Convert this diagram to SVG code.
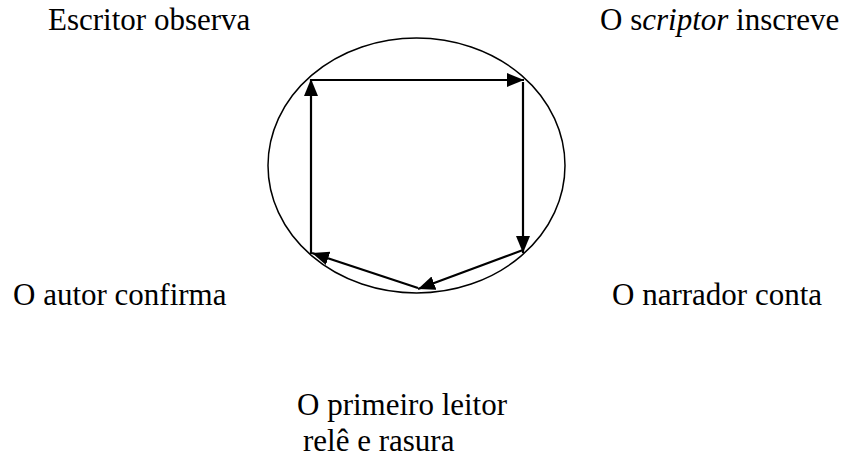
<svg xmlns="http://www.w3.org/2000/svg" width="841" height="457" viewBox="0 0 841 457">
<style>
text{font-family:'Liberation Serif','Times New Roman','DejaVu Serif',serif;font-size:31px;fill:#000}
.c{stroke:#000;stroke-width:2.2;fill:none;marker-end:url(#ah)}
</style>
<defs>
<marker id="ah" markerUnits="userSpaceOnUse" markerWidth="20" markerHeight="16" refX="17" refY="7" orient="auto">
<path d="M0,0 L17,7 L0,14 Z" fill="#000"/>
</marker>
</defs>
<rect width="841" height="457" fill="#fff"/>
<g id="ciclo">
<ellipse cx="416.5" cy="165.5" rx="148.5" ry="127.5" fill="none" stroke="#000" stroke-width="1.5"/>
</g>
<g id="connectors">
<line class="c" x1="310" y1="80" x2="524" y2="80"/>
<line class="c" x1="523" y1="82" x2="523" y2="253"/>
<line class="c" x1="523" y1="250" x2="418" y2="289"/>
<line class="c" x1="418" y1="288" x2="312" y2="253"/>
<line class="c" x1="311" y1="254" x2="311" y2="79"/>
</g>
<g id="escritor"><text x="48" y="30">Escritor observa</text></g>
<g id="scriptor"><text x="600" y="30">O s<tspan font-style="italic">criptor</tspan> inscreve</text></g>
<g id="narrador"><text x="612" y="305">O narrador conta</text></g>
<g id="leitor"><text x="297" y="415">O primeiro leitor</text><text x="303" y="451">relê e rasura</text></g>
<g id="autor"><text x="13" y="305">O autor confirma</text></g>
</svg>
